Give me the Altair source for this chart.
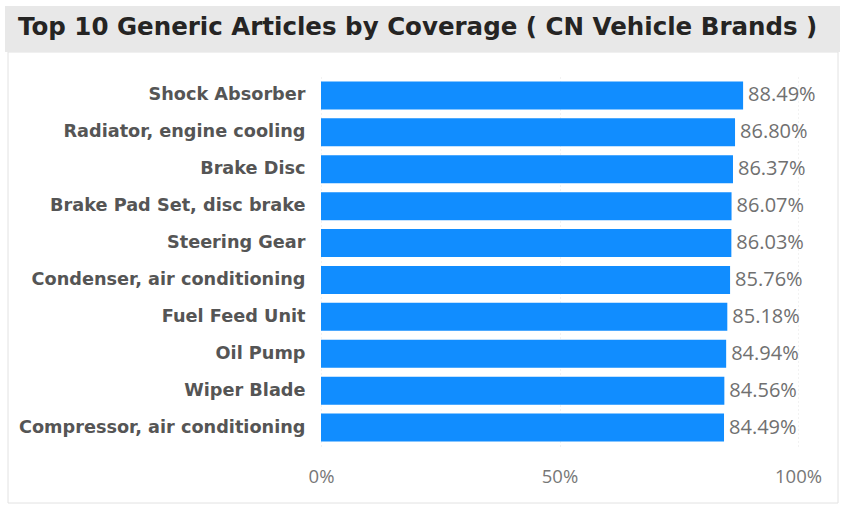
import altair as alt
import pandas as pd

articles = ["Shock Absorber", "Radiator, engine cooling", "Brake Disc", "Brake Pad Set, disc brake",
            "Steering Gear", "Condenser, air conditioning", "Fuel Feed Unit", "Oil Pump",
            "Wiper Blade", "Compressor, air conditioning"]
coverage = [88.49, 86.80, 86.37, 86.07, 86.03, 85.76, 85.18, 84.94, 84.56, 84.49]
title_text = "Top 10 Generic Articles by Coverage ( CN Vehicle Brands )"

W, H = 477, 369

df = pd.DataFrame({"article": articles, "coverage": [c / 100 for c in coverage]})
df["label"] = [f"{c:.2f}%" for c in coverage]
one = pd.DataFrame({"t": [title_text]})

y_enc = alt.Y("article:N", sort=articles, title=None,
              scale=alt.Scale(paddingInner=0.24, paddingOuter=0.12),
              axis=alt.Axis(domain=False, ticks=False, labelPadding=16,
                            labelFont="DejaVu Sans", labelFontWeight="bold",
                            labelFontSize=17.7, labelColor="#555555", labelLimit=400))
x_enc = alt.X("coverage:Q", title=None,
              scale=alt.Scale(domain=[0, 1]),
              axis=alt.Axis(values=[0, 0.5, 1], format=".0%", domain=False, ticks=False,
                            labelPadding=21, labelFont="Open Sans", labelFontSize=18.5,
                            labelColor="#777777", grid=True, gridColor="#e4e4e4",
                            gridDash=[1, 3], labelFlush=False))

border = alt.Chart(one).mark_rect(filled=False, stroke="#e2e2e2", strokeWidth=1).encode(
    x=alt.value(-313), x2=alt.value(W + 40), y=alt.value(-25), y2=alt.value(H + 57))
bar_bg = alt.Chart(one).mark_rect(fill="#e8e8e8").encode(
    x=alt.value(-316), x2=alt.value(W + 42), y=alt.value(-71), y2=alt.value(-25))
title = alt.Chart(one).mark_text(align="left", baseline="middle", font="DejaVu Sans",
                                 fontWeight="bold", fontSize=24.5, color="#252423").encode(
    x=alt.value(-303), y=alt.value(-49), text="t:N")

bars = alt.Chart(df).mark_bar(color="#118DFF").encode(x=x_enc, y=y_enc)
labels = alt.Chart(df).mark_text(align="left", baseline="middle", dx=5, font="Open Sans",
                                 fontSize=20, color="#707070").encode(
    x="coverage:Q", y=alt.Y("article:N", sort=articles), text="label:N")

chart = alt.layer(border, bar_bg, title, bars, labels).properties(
    width=W, height=H, padding={"left": 5, "top": 6, "right": 3, "bottom": 3},
    background="white"
).configure_view(stroke=None)

chart.save("out.html", embed_options={"renderer": "svg", "actions": False})
